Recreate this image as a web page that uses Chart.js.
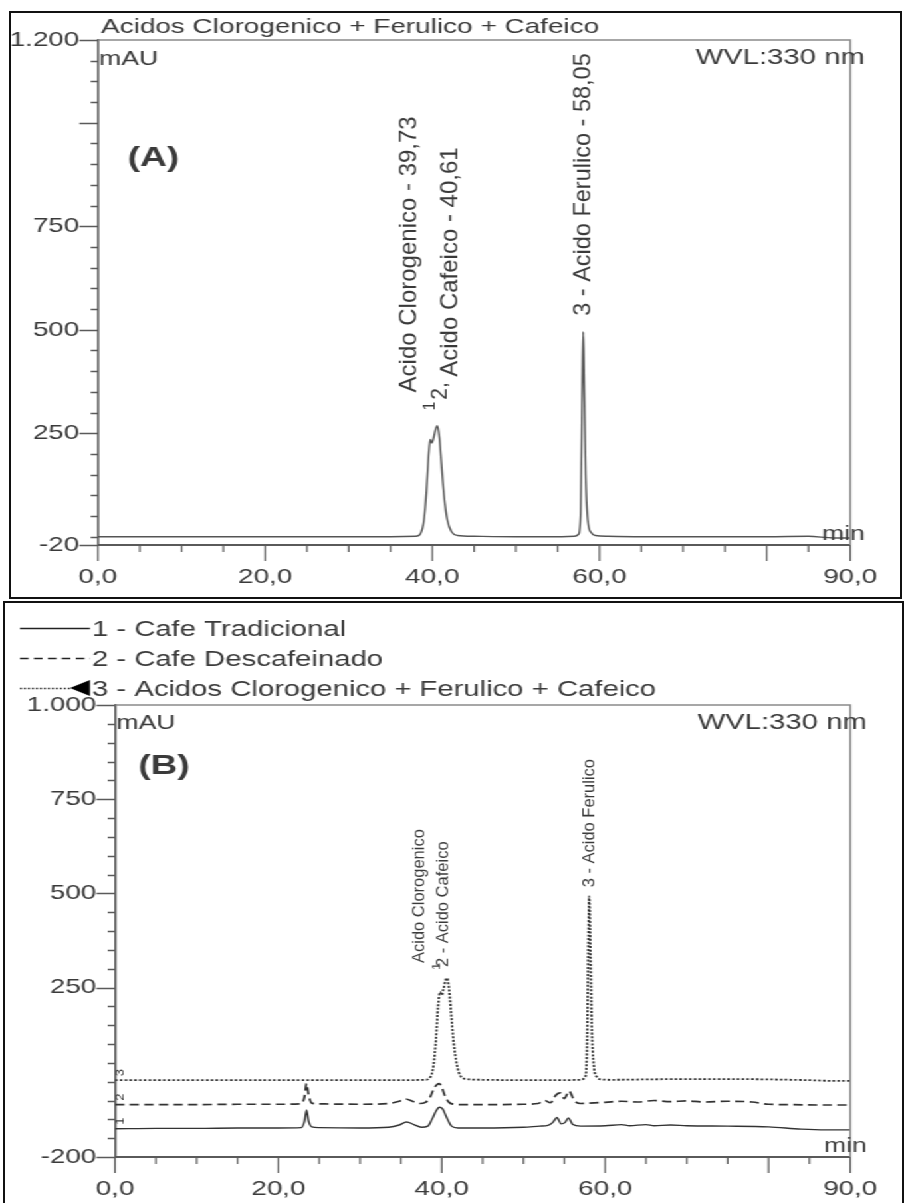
<!DOCTYPE html>
<html>
<head>
<meta charset="utf-8">
<title>Cromatogramas 330 nm</title>
<script src="https://cdn.jsdelivr.net/npm/chart.js@4.4.1/dist/chart.umd.min.js"></script>
<style>
  html, body { margin: 0; padding: 0; background: #fff; }
  #page { position: relative; width: 904px; height: 1203px; overflow: hidden; }
  /* the source figure is stretched horizontally; draw at 680px and scale to 904px */
  #stretch { position: absolute; left: 0; top: 0; width: 680px; height: 1203px;
             transform: scaleX(1.329412); transform-origin: 0 0; }
  .box { position: absolute; border: 2px solid #111; box-sizing: border-box; z-index: 2; }
  #boxA { left: 9px; top: 11px; width: 893px; height: 588px; }
  #boxB { left: 3px; top: 601px; width: 901px; height: 620px; }
  canvas { position: absolute; left: 0; }
  #cA { top: 0; }
  #cB { top: 600px; }
</style>
</head>
<body>
<div id="page">
  <div id="stretch">
    <canvas id="cA" width="680" height="600"></canvas>
    <canvas id="cB" width="680" height="603"></canvas>
  </div>
  <div class="box" id="boxA"></div>
  <div class="box" id="boxB"></div>
</div>
<script>
(function () {
  "use strict";

  /* ---- data (min, mAU) ---- */
  // (A) padrao: acidos clorogenico + cafeico + ferulico
  var TIME_A = [0, 2, 5, 10, 15, 20, 25, 30, 35, 38.0, 38.6, 39.0, 39.3, 39.55, 39.75, 39.95, 40.15, 40.4, 40.6,
                40.85, 41.1, 41.4, 41.8, 42.3, 43, 45, 50, 55, 57.0, 57.5, 57.75, 57.95, 58.05, 58.15, 58.35,
                58.6, 59.0, 59.5, 61, 65, 70, 75, 80, 85, 88, 90];
  var MAU_A  = [0, 0, 0, 0, 0, 0, 0, 0, 0, 1, 8, 40, 110, 195, 235, 226, 238, 260, 268,
                240, 175, 100, 40, 12, 3, 1, 0, 0, 1, 6, 60, 380, 495, 400, 150,
                40, 10, 3, 1, 0, 0, 0, 0, 1, -3, -3];

  // (B) 3 - padrao (pontilhado)
  var TIME_B3 = [0, 5, 10, 15, 20, 25, 30, 35, 38.0, 38.6, 39.0, 39.3, 39.55, 39.8, 40.0, 40.2, 40.45, 40.65,
                 40.9, 41.15, 41.45, 41.85, 42.3, 43, 45, 50, 55, 57.0, 57.5, 57.75, 57.95, 58.05, 58.15, 58.35,
                 58.6, 59.0, 59.5, 61, 65, 70, 75, 80, 85, 88, 90];
  var MAU_B3  = [4, 4, 4, 4, 4, 4, 4, 4, 5, 12, 45, 115, 200, 238, 230, 245, 268, 275,
                 245, 180, 105, 45, 15, 7, 5, 4, 4, 5, 10, 65, 385, 492, 405, 155,
                 45, 12, 6, 5, 6, 7, 7, 6, 4, 2, 2];

  // (B) 2 - cafe descafeinado (tracejado)
  var TIME_B2 = [0, 5, 10, 15, 20, 22.8, 23.2, 23.45, 23.7, 24.1, 25, 30, 33.5, 34.8, 35.6, 36.4, 37.3, 38.0,
                 38.6, 39.0, 39.4, 39.7, 40.0, 40.4, 40.9, 41.5, 42.5, 45, 50, 51.8, 52.6, 53.3, 54.0, 54.5,
                 55.0, 55.6, 56.2, 57.0, 58, 60, 62, 64, 66, 68, 70, 72, 75, 78, 80, 83, 86, 90];
  var MAU_B2  = [-61, -61, -61, -60, -60, -59, -40, -5, -35, -57, -59, -60, -58, -52, -46, -52, -58, -55,
                 -40, -20, -8, -5, -15, -38, -55, -60, -61, -61, -60, -58, -50, -56, -35, -30,
                 -45, -25, -50, -58, -57, -55, -52, -54, -50, -53, -51, -54, -52, -54, -60, -61, -62, -62];

  // (B) 1 - cafe tradicional (continuo)
  var TIME_B1 = [0, 5, 10, 15, 20, 22.8, 23.2, 23.45, 23.7, 24.1, 25, 30, 33.5, 34.8, 35.7, 36.6, 37.5, 38.3,
                 38.8, 39.3, 39.7, 40.1, 40.6, 41.2, 42, 45, 50, 52, 53, 53.6, 54.1, 54.6, 55.1, 55.5,
                 56.0, 57, 60, 62, 63, 65, 66, 68, 70, 75, 80, 84, 87, 90];
  var MAU_B1  = [-125, -124, -124, -123, -123, -122, -105, -75, -105, -120, -122, -123, -121, -115, -107, -114, -121, -118,
                 -100, -78, -68, -72, -95, -118, -123, -123, -121, -118, -116, -108, -95, -112, -108, -96,
                 -113, -118, -117, -114, -117, -114, -117, -115, -117, -118, -120, -126, -128, -128];

  var LEGEND_B = ["1 - Cafe Tradicional", "2 - Cafe Descafeinado", "3 - Acidos Clorogenico + Ferulico + Cafeico"];

  // axis ticks
  var X_LABELS = [0, 20, 40, 60, 90];
  var X_MAJOR = [0, 20, 40, 60, 80, 90];
  var Y_LABELS_A = [-20, 250, 500, 750, 1200];
  var Y_MAJOR_A = [-20, 250, 500, 750, 1000, 1200];
  var Y_LABELS_B = [-200, 250, 500, 750, 1000];
  var Y_MAJOR_B = [-200, 250, 500, 750, 1000];

  /* ---- style ---- */
  var S = 904 / 680;                 // horizontal stretch applied by CSS
  var FONT = "'Liberation Sans', Arial, Helvetica, sans-serif";
  var TXT = "#3a3a3a";
  var AXIS = "#5a5a5a";
  var FRAME = "#8a8a8a";
  var TRACE = "#333333";

  function fmtX(v) { return Number(v).toFixed(1).replace(".", ","); }
  function fmtY(v) { return String(v).replace(/\B(?=(\d{3})+(?!\d))/g, "."); }
  function pts(t, v) { return t.map(function (x, i) { return { x: x, y: v[i] }; }); }

  /* ---- decoration plugin: tick marks, frame, captions, peak labels, legend ---- */
  var deco = {
    id: "deco",
    afterDraw: function (chart, args, o) {
      var ctx = chart.ctx, xs = chart.scales.x, ys = chart.scales.y, a = chart.chartArea;
      var v, p;
      ctx.save();

      // frame (top + right)
      ctx.strokeStyle = FRAME;
      ctx.lineWidth = 1.4;
      ctx.beginPath();
      ctx.moveTo(a.left, a.top); ctx.lineTo(a.right, a.top); ctx.lineTo(a.right, a.bottom);
      ctx.stroke();

      // tick marks
      ctx.strokeStyle = AXIS;
      ctx.beginPath();
      ctx.lineWidth = 1.5;
      for (v = o.yMinorFrom; v <= ys.max + 0.01; v += 50) {
        if (o.yMajor.indexOf(v) >= 0) continue;
        p = Math.round(ys.getPixelForValue(v)) + 0.5;
        ctx.moveTo(a.left - 5.5, p); ctx.lineTo(a.left, p);
      }
      o.yMajor.forEach(function (m) {
        p = Math.round(ys.getPixelForValue(m)) + 0.5;
        ctx.moveTo(a.left - 14, p); ctx.lineTo(a.left, p);
      });
      ctx.stroke();
      ctx.beginPath();
      ctx.lineWidth = 1.2;
      for (v = 0; v <= 90; v += 5) {
        var len = X_MAJOR.indexOf(v) >= 0 ? 16 : 7;
        p = xs.getPixelForValue(v);
        ctx.moveTo(p, a.bottom); ctx.lineTo(p, a.bottom + len);
      }
      ctx.stroke();

      // captions
      ctx.fillStyle = TXT;
      (o.texts || []).forEach(function (t) {
        ctx.font = t.font;
        ctx.textAlign = t.align || "left";
        ctx.textBaseline = "alphabetic";
        ctx.fillText(t.text, t.x, t.y);
      });

      // rotated peak labels anchored on data coordinates (undo the stretch for them)
      (o.peaks || []).forEach(function (pk) {
        var px = xs.getPixelForValue(pk.t) + pk.dx / S;
        var py = ys.getPixelForValue(pk.v) + pk.dy;
        ctx.save();
        ctx.translate(px, py);
        ctx.scale(1 / S, 1);
        ctx.rotate(-Math.PI / 2);
        ctx.font = pk.font;
        ctx.textAlign = "left";
        ctx.textBaseline = "middle";
        ctx.fillText(pk.text, 0, 0);
        ctx.restore();
      });

      // legend (panel B)
      if (o.legend) {
        var L = o.legend;
        ctx.strokeStyle = "#222";
        ctx.lineWidth = 1.6;
        L.items.forEach(function (txt, i) {
          var y = L.y0 + i * L.dy + 0.5;
          ctx.setLineDash(L.dash[i]);
          ctx.beginPath();
          ctx.moveTo(L.x0, y); ctx.lineTo(i === 2 ? L.x1 - 14 : L.x1, y);
          ctx.stroke();
          ctx.setLineDash([]);
          ctx.font = L.font;
          ctx.textAlign = "left";
          ctx.textBaseline = "middle";
          ctx.fillStyle = TXT;
          ctx.fillText(txt, L.x1 + 1.5, y + 1);
        });
        // arrow head on the third entry
        var ya = L.y0 + 2 * L.dy;
        ctx.fillStyle = "#000";
        ctx.beginPath();
        ctx.moveTo(L.x1 - 15, ya); ctx.lineTo(L.x1, ya - 8); ctx.lineTo(L.x1, ya + 8);
        ctx.closePath(); ctx.fill();
      }
      ctx.restore();
    }
  };
  Chart.register(deco);

  function makeChart(id, c) {
    return new Chart(document.getElementById(id), {
      type: "line",
      data: { datasets: c.datasets },
      options: {
        responsive: false,
        animation: false,
        events: [],
        layout: { autoPadding: false, padding: { top: c.top, right: c.right, left: 0, bottom: 0 } },
        elements: {
          point: { radius: 0 },
          line: { cubicInterpolationMode: "monotone", borderCapStyle: "butt" }
        },
        plugins: { legend: { display: false }, tooltip: { enabled: false }, deco: c.deco },
        scales: {
          x: {
            type: "linear", min: 0, max: 90,
            grid: { display: false, drawTicks: false },
            border: { display: true, color: AXIS, width: 2 },
            afterBuildTicks: function (s) { s.ticks = X_LABELS.map(function (v) { return { value: v }; }); },
            afterFit: function (s) { s.height = c.xH; },
            ticks: { color: TXT, font: { family: FONT, size: 21 }, padding: 20, maxRotation: 0,
                     autoSkip: false, callback: fmtX }
          },
          y: {
            type: "linear", min: c.ymin, max: c.ymax,
            grid: { display: false, drawTicks: false },
            border: { display: true, color: AXIS, width: 1.6 },
            afterBuildTicks: function (s) { s.ticks = c.yLabels.map(function (v) { return { value: v }; }); },
            afterFit: function (s) { s.width = c.yW; },
            ticks: { color: TXT, font: { family: FONT, size: 21 }, padding: 14, autoSkip: false, callback: fmtY }
          }
        }
      }
    });
  }

  /* ---- (A) ---- */
  makeChart("cA", {
    top: 40, right: 28.6, xH: 55, yW: 73.7, ymin: -20, ymax: 1200, yLabels: Y_LABELS_A,
    datasets: [{ data: pts(TIME_A, MAU_A), borderColor: "#555", borderWidth: 1.4 }],
    deco: {
      yMinorFrom: 0, yMajor: Y_MAJOR_A,
      texts: [
        { text: "Acidos Clorogenico + Ferulico + Cafeico", x: 76, y: 33, font: "21px " + FONT },
        { text: "mAU", x: 74.5, y: 65, font: "20px " + FONT },
        { text: "WVL:330 nm", x: 650.5, y: 64, align: "right", font: "22px " + FONT },
        { text: "(A)", x: 96, y: 166, font: "bold 28px " + FONT },
        { text: "min", x: 650.5, y: 540, align: "right", font: "20px " + FONT }
      ],
      peaks: [
        { text: "Acido Clorogenico - 39,73", t: 39.73, v: 235, dx: -20, dy: -47, font: "24px " + FONT },
        { text: "1", t: 39.73, v: 235, dx: 0, dy: -29, font: "16px " + FONT },
        { text: "2,", t: 40.61, v: 268, dx: 3, dy: -26, font: "21px " + FONT },
        { text: "Acido Cafeico - 40,61", t: 40.61, v: 268, dx: 13, dy: -49, font: "24px " + FONT },
        { text: "3 - Acido Ferulico - 58,05", t: 58.05, v: 495, dx: 0, dy: -16, font: "23.5px " + FONT }
      ]
    }
  });

  /* ---- (B) ---- */
  makeChart("cB", {
    top: 105, right: 26.3, xH: 46, yW: 86.5, ymin: -200, ymax: 1000, yLabels: Y_LABELS_B,
    datasets: [
      { data: pts(TIME_B3, MAU_B3), borderColor: TRACE, borderWidth: 1.8, borderDash: [2, 1.6] },
      { data: pts(TIME_B2, MAU_B2), borderColor: TRACE, borderWidth: 1.7, borderDash: [7, 4] },
      { data: pts(TIME_B1, MAU_B1), borderColor: TRACE, borderWidth: 1.4 }
    ],
    deco: {
      yMinorFrom: -200, yMajor: Y_MAJOR_B,
      texts: [
        { text: "mAU", x: 87.5, y: 129, font: "20px " + FONT },
        { text: "WVL:330 nm", x: 652, y: 129, align: "right", font: "22px " + FONT },
        { text: "(B)", x: 104, y: 174, font: "bold 28px " + FONT },
        { text: "min", x: 652, y: 552, align: "right", font: "20px " + FONT }
      ],
      peaks: [
        { text: "Acido Clorogenico", t: 39.8, v: 238, dx: -20, dy: -29, font: "16.5px " + FONT },
        { text: "1", t: 39.8, v: 238, dx: -4, dy: -22, font: "13px " + FONT },
        { text: "2 - Acido Cafeico", t: 40.65, v: 275, dx: -4, dy: -11, font: "16.5px " + FONT },
        { text: "3 - Acido Ferulico", t: 58.05, v: 492, dx: 0, dy: -9, font: "16.5px " + FONT },
        { text: "3", t: 0, v: 4, dx: 5, dy: -4, font: "13px " + FONT },
        { text: "2", t: 0, v: -61, dx: 5, dy: -4, font: "13px " + FONT },
        { text: "1", t: 0, v: -125, dx: 5, dy: -4, font: "13px " + FONT }
      ],
      legend: {
        items: LEGEND_B, x0: 15, x1: 67.7, y0: 28, dy: 30,
        dash: [[], [6.5, 4], [1.5, 1.5]], font: "22px " + FONT
      }
    }
  });
})();
</script>
</body>
</html>
